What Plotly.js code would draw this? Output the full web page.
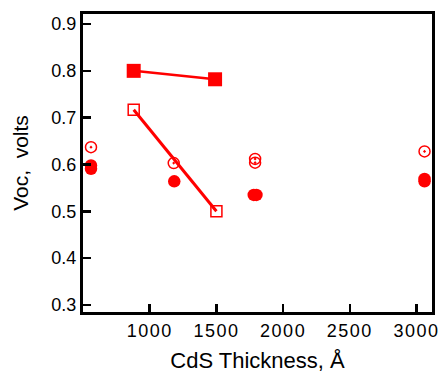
<!DOCTYPE html>
<html>
<head>
<meta charset="utf-8">
<script src="https://cdn.plot.ly/plotly-3.0.1.min.js"></script>
<style>html,body{margin:0;padding:0;background:#fff;}#chart{width:440px;height:373px;}
.xtick text{letter-spacing:1.5px;}</style>
</head>
<body>
<div id="chart"></div>
<script>
// Data
const filledSquareX = [880, 1490];
const filledSquareY = [0.800, 0.782];
const openSquareX = [880, 1500];
const openSquareY = [0.717, 0.500];
const openDotCircleX = [560, 1180, 1790, 1790, 3060];
const openDotCircleY = [0.637, 0.603, 0.612, 0.604, 0.628];
const filledCircleX = [560, 560, 1184, 1780, 1800, 3060, 3060];
const filledCircleY = [0.598, 0.591, 0.564, 0.535, 0.535, 0.569, 0.564];
const xTickVals = [1000, 1500, 2000, 2500, 3000];
const yTickVals = [0.3, 0.4, 0.5, 0.6, 0.7, 0.8, 0.9];

const red = '#ff0000';
const traces = [
  {x: filledSquareX, y: filledSquareY, mode: 'lines+markers', type: 'scatter',
   line: {color: red, width: 2.5}, marker: {symbol: 'square', size: 14, color: red}},
  {x: openSquareX, y: openSquareY, mode: 'lines+markers', type: 'scatter',
   line: {color: red, width: 3}, marker: {symbol: 'square-open', size: 11, color: red, line: {width: 1.5, color: red}}},
  {x: openDotCircleX, y: openDotCircleY, mode: 'markers', type: 'scatter',
   marker: {symbol: 'circle-open-dot', size: 11, color: red, line: {width: 1.5, color: red}}},
  {x: filledCircleX, y: filledCircleY, mode: 'markers', type: 'scatter',
   marker: {symbol: 'circle', size: 12.5, color: red}}
];

const font = {family: 'Liberation Sans, Arial, sans-serif', color: '#000'};
const layout = {
  width: 440, height: 373,
  margin: {l: 83, r: 8, t: 14, b: 61, pad: 0},
  showlegend: false,
  paper_bgcolor: '#fff', plot_bgcolor: '#fff',
  font: font,
  xaxis: {
    range: [500, 3116], tickvals: xTickVals, ticktext: xTickVals.map(String),
    ticks: 'inside', ticklen: 8, tickwidth: 2.5, tickcolor: '#000',
    showline: true, linewidth: 3, linecolor: '#000', mirror: true,
    showgrid: false, zeroline: false,
    tickfont: {family: font.family, size: 18, color: '#000'},
    title: {text: 'CdS Thickness, Å', font: {family: font.family, size: 22, color: '#000'}, standoff: 16}
  },
  yaxis: {
    range: [0.285, 0.9214], tickvals: yTickVals, ticktext: yTickVals.map(v => v.toFixed(1)),
    ticks: 'inside', ticklen: 8, tickwidth: 2.5, tickcolor: '#000',
    showline: true, linewidth: 3, linecolor: '#000', mirror: true,
    showgrid: false, zeroline: false,
    tickfont: {family: font.family, size: 18, color: '#000'},
    title: {text: 'Voc,  volts', font: {family: font.family, size: 21, color: '#000'}, standoff: 18}
  }
};
Plotly.newPlot('chart', traces, layout, {displayModeBar: false, staticPlot: true});
</script>
</body>
</html>
